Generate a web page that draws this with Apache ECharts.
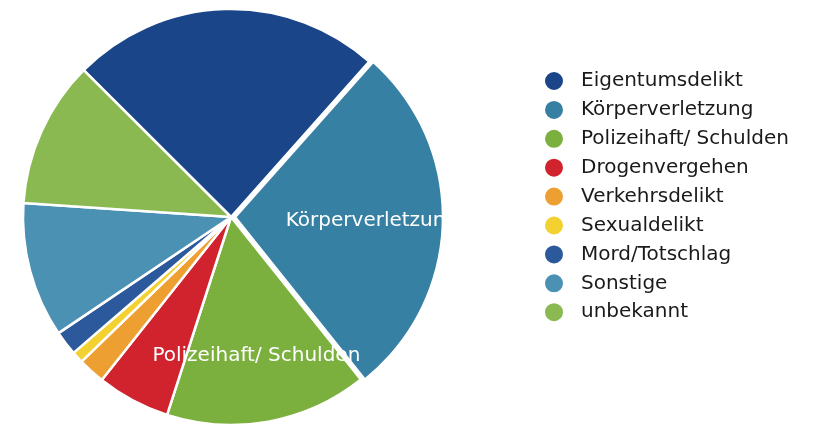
<!DOCTYPE html>
<html>
<head>
<meta charset="utf-8">
<script src="https://cdn.jsdelivr.net/npm/echarts@6/dist/echarts.min.js"></script>
<style>
  html, body { margin: 0; padding: 0; background: #ffffff; }
  #chart { width: 816px; height: 426px; }
</style>
</head>
<body>
<div id="chart"></div>
<script>
// Delikte (Anteile in %)
const categories = [
  'Eigentumsdelikt',
  'Körperverletzung',
  'Polizeihaft/ Schulden',
  'Drogenvergehen',
  'Verkehrsdelikt',
  'Sexualdelikt',
  'Mord/Totschlag',
  'Sonstige',
  'unbekannt'
];
const values = [24.1, 27.7, 15.7, 5.7, 2.1, 0.9, 1.9, 10.5, 11.4];
const colors = ['#1a4588', '#3680a3', '#7bb03e', '#d1232d', '#ee9f31', '#f2d130', '#2c589c', '#4b91b4', '#89b950'];
// nur diese Segmente tragen eine Beschriftung
const labelled = ['Körperverletzung', 'Polizeihaft/ Schulden'];
const exploded = 'Körperverletzung';

const fontFamily = 'DejaVu Sans';
const fontSize = 20;

const chart = echarts.init(document.getElementById('chart'), null, { renderer: 'canvas' });

const pieData = categories.map((name, i) => ({
  name: name,
  value: values[i],
  selected: name === exploded,
  itemStyle: { color: colors[i] }
}));

const labelData = categories.map((name, i) => ({
  name: name,
  value: values[i],
  label: { show: labelled.includes(name) }
}));

const option = {
  animation: false,
  legend: {
    orient: 'vertical',
    left: 543,
    top: 70,
    padding: 0,
    icon: 'circle',
    itemWidth: 20,
    itemHeight: 20,
    itemGap: 6.9,
    data: categories,
    selectedMode: false,
    textStyle: {
      color: '#1a1a1a',
      fontFamily: fontFamily,
      fontSize: fontSize,
      lineHeight: 20,
      padding: [0, 0, 0, 12]
    }
  },
  series: [
    {
      type: 'pie',
      center: [231, 217],
      radius: 208,
      startAngle: 135.1,
      clockwise: true,
      selectedMode: 'single',
      selectedOffset: 4,
      avoidLabelOverlap: false,
      label: { show: false },
      labelLine: { show: false },
      emphasis: { disabled: true },
      itemStyle: { borderColor: '#ffffff', borderWidth: 2.5 },
      data: pieData
    },
    {
      // unsichtbarer Ring nur für die Beschriftungen
      type: 'pie',
      center: [231, 217],
      radius: [68, 208],
      startAngle: 135.1,
      clockwise: true,
      silent: true,
      avoidLabelOverlap: false,
      itemStyle: { color: 'rgba(0,0,0,0)', borderWidth: 0 },
      emphasis: { disabled: true },
      labelLine: { show: false },
      label: {
        position: 'inside',
        formatter: '{b}',
        color: '#ffffff',
        fontFamily: fontFamily,
        fontSize: fontSize
      },
      data: labelData
    }
  ]
};

chart.setOption(option);
</script>
</body>
</html>
